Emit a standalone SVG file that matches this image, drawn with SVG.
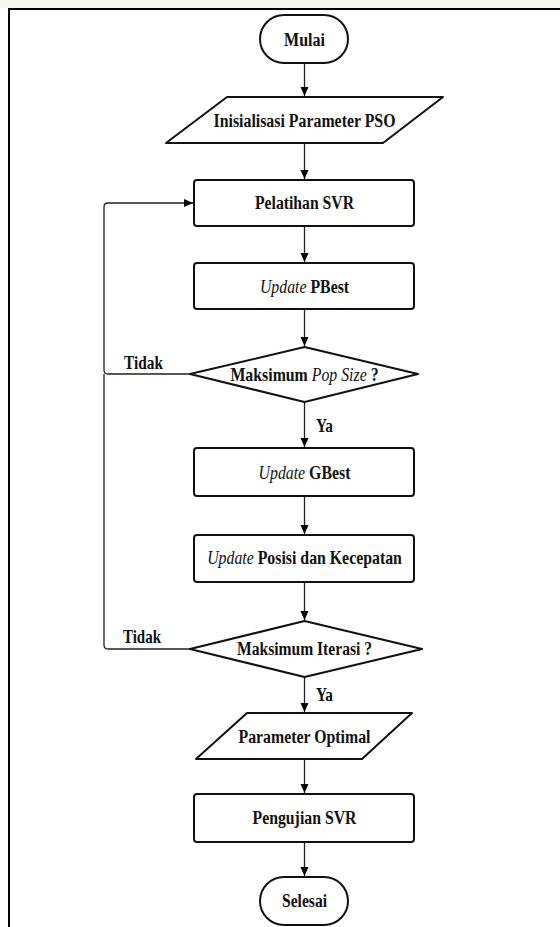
<svg xmlns="http://www.w3.org/2000/svg" width="560" height="927" viewBox="0 0 560 927">
<defs>
<marker id="arr" markerUnits="userSpaceOnUse" markerWidth="10" markerHeight="10" viewBox="0 0 10 10" refX="9" refY="5" orient="auto">
<path d="M0,1 L9,5 L0,9 Z" fill="#000"/>
</marker>
<style>
.shape{fill:#fff;stroke:#111;stroke-width:2;stroke-linejoin:round}
.con{fill:none;stroke:#222;stroke-width:1.3}
.t{font-family:"Liberation Serif","Times New Roman",serif;font-size:18px;font-weight:bold;fill:#111;text-anchor:middle}
.l{font-family:"Liberation Serif","Times New Roman",serif;font-size:18px;font-weight:bold;fill:#111}
.i{font-style:italic;font-weight:normal}
</style>
</defs>
<rect x="0" y="0" width="560" height="927" fill="#fff"/>
<rect x="0" y="0" width="560" height="8" fill="#f8f7ee"/>
<g id="frame">
<path d="M9,927 V9 H560" fill="none" stroke="#000" stroke-width="2"/>
</g>
<g id="connectors">
<path class="con" d="M304.5,63 V96" marker-end="url(#arr)"/>
<path class="con" d="M304.5,143 V179" marker-end="url(#arr)"/>
<path class="con" d="M304.5,226 V262" marker-end="url(#arr)"/>
<path class="con" d="M304.5,309 V346" marker-end="url(#arr)"/>
<path class="con" d="M304.5,402 V447" marker-end="url(#arr)"/>
<path class="con" d="M304.5,496 V534" marker-end="url(#arr)"/>
<path class="con" d="M304.5,582 V620" marker-end="url(#arr)"/>
<path class="con" d="M304.5,677 V712" marker-end="url(#arr)"/>
<path class="con" d="M304.5,759 V793" marker-end="url(#arr)"/>
<path class="con" d="M304.5,842 V876" marker-end="url(#arr)"/>
<path class="con" d="M190,374 H108 Q104,374 104,370 V207 Q104,203 108,203 H193" marker-end="url(#arr)"/>
<path class="con" d="M190,649 H108 Q104,649 104,645 V374"/>
<text class="l" x="124" y="369" textLength="39" lengthAdjust="spacingAndGlyphs">Tidak</text>
<text class="l" x="123" y="643" textLength="38" lengthAdjust="spacingAndGlyphs">Tidak</text>
<text class="l" x="316" y="432" textLength="17" lengthAdjust="spacingAndGlyphs">Ya</text>
<text class="l" x="316" y="701" textLength="17" lengthAdjust="spacingAndGlyphs">Ya</text>
</g>
<g id="mulai">
<rect class="shape" x="260" y="15" width="88" height="48" rx="24" ry="24"/>
<text class="t" x="304.5" y="46" textLength="41" lengthAdjust="spacingAndGlyphs">Mulai</text>
</g>
<g id="inisialisasi">
<path class="shape" d="M227,97 H443 L383,143 H166 Z"/>
<text class="t" x="304.5" y="127" textLength="182" lengthAdjust="spacingAndGlyphs">Inisialisasi Parameter PSO</text>
</g>
<g id="pelatihan">
<rect class="shape" x="194" y="180" width="220" height="46" rx="3"/>
<text class="t" x="304.5" y="209" textLength="99" lengthAdjust="spacingAndGlyphs">Pelatihan SVR</text>
</g>
<g id="pbest">
<rect class="shape" x="194" y="263" width="220" height="46" rx="3"/>
<text class="t" transform="matrix(0.88,0,0,1,304.5,293)" x="0" y="0"><tspan class="i">Update</tspan> PBest</text>
</g>
<g id="popsize">
<path class="shape" d="M304.5,347 L418,374 L304.5,402 L190,374 Z"/>
<text class="t" transform="matrix(0.88,0,0,1,304.5,381)" x="0" y="0">Maksimum <tspan class="i">Pop Size</tspan> ?</text>
</g>
<g id="gbest">
<rect class="shape" x="194" y="448" width="220" height="48" rx="3"/>
<text class="t" transform="matrix(0.88,0,0,1,304.5,479)" x="0" y="0"><tspan class="i">Update</tspan> GBest</text>
</g>
<g id="posisi">
<rect class="shape" x="194" y="535" width="220" height="47" rx="3"/>
<text class="t" transform="matrix(0.88,0,0,1,304.5,564)" x="0" y="0"><tspan class="i">Update</tspan> Posisi dan Kecepatan</text>
</g>
<g id="iterasi">
<path class="shape" d="M304.5,621 L422,649 L304.5,677 L190,649 Z"/>
<text class="t" x="304.5" y="655" textLength="135" lengthAdjust="spacingAndGlyphs">Maksimum Iterasi ?</text>
</g>
<g id="optimal">
<path class="shape" d="M247,713 H412 L362,759 H196 Z"/>
<text class="t" x="304.5" y="743" textLength="132" lengthAdjust="spacingAndGlyphs">Parameter Optimal</text>
</g>
<g id="pengujian">
<rect class="shape" x="194" y="794" width="220" height="48" rx="3"/>
<text class="t" x="304.5" y="824" textLength="104" lengthAdjust="spacingAndGlyphs">Pengujian SVR</text>
</g>
<g id="selesai">
<rect class="shape" x="260" y="877" width="88" height="48" rx="24" ry="24"/>
<text class="t" x="304.5" y="907" textLength="45" lengthAdjust="spacingAndGlyphs">Selesai</text>
</g>
</svg>
